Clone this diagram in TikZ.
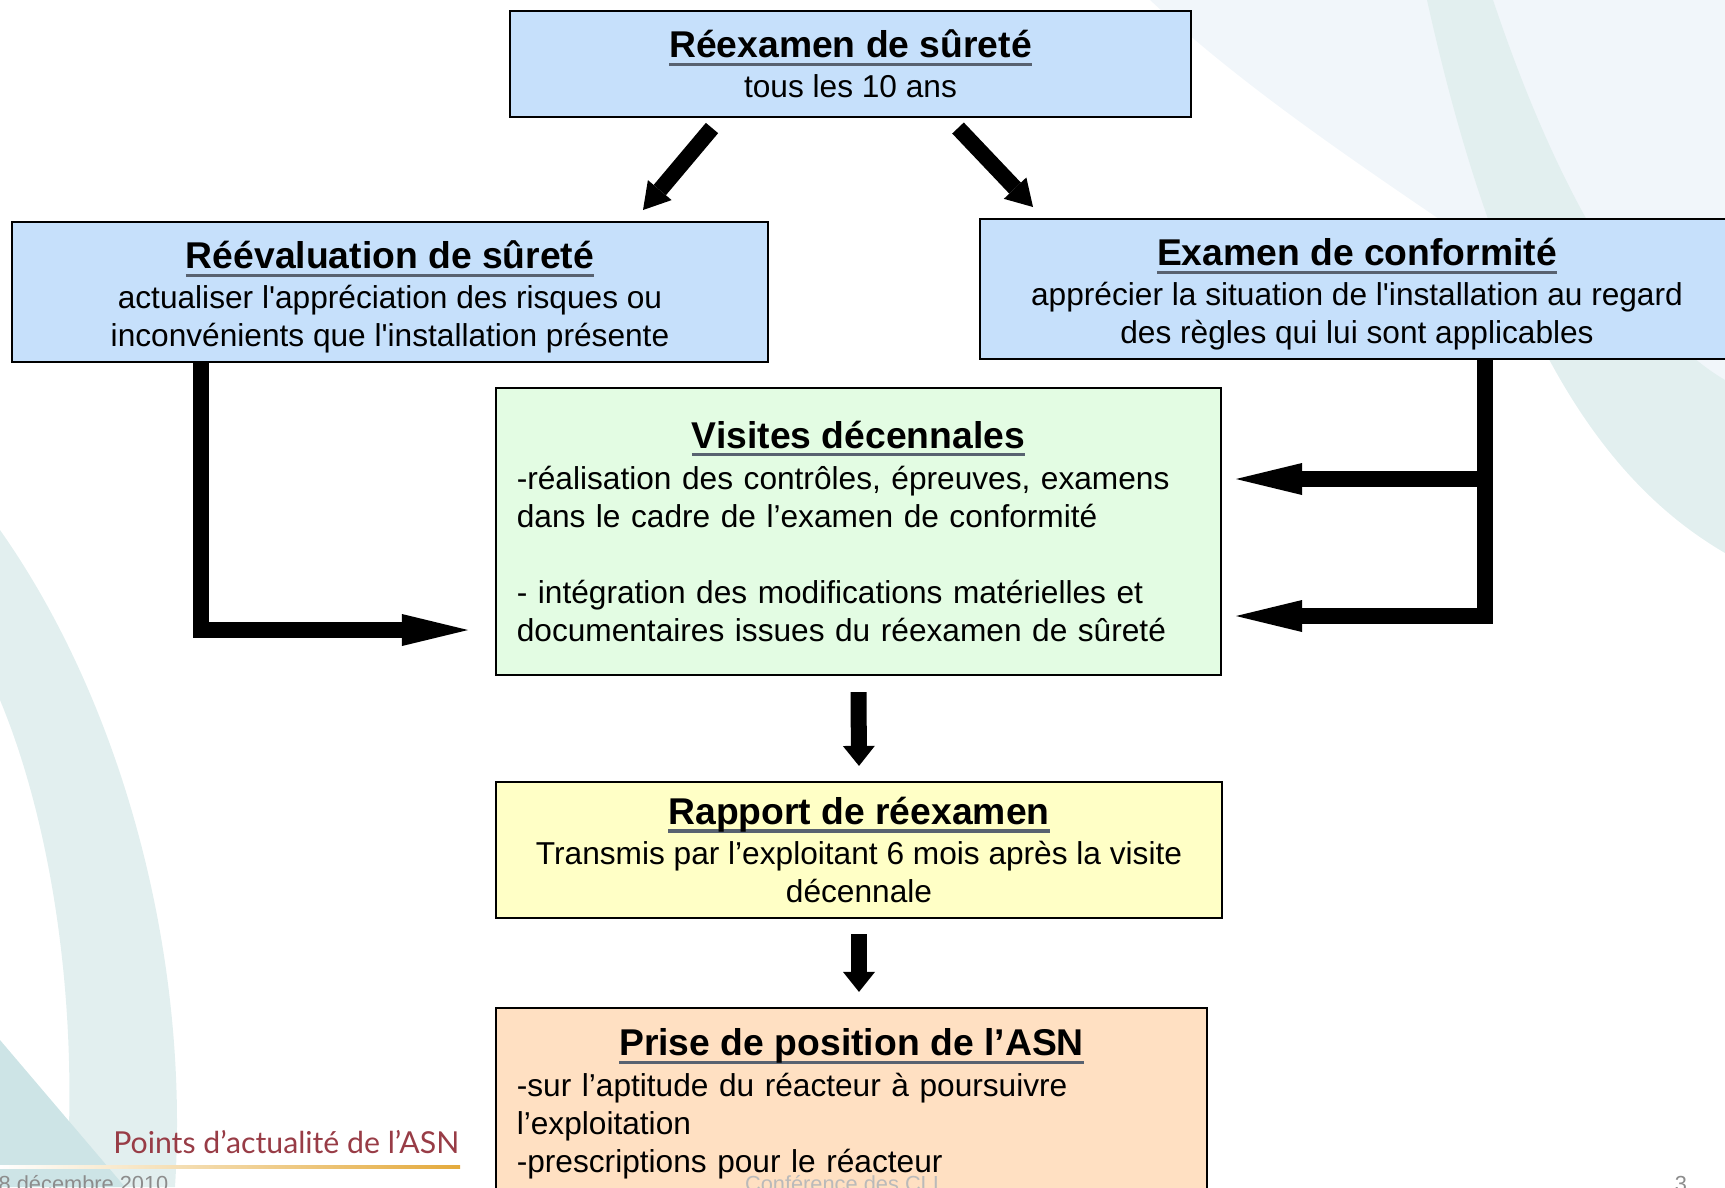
\documentclass[tikz,border=0pt]{standalone}
\usepackage{fontspec}
\setmainfont{Liberation Sans}
\newfontfamily\logofont{Lato}
\usetikzlibrary{arrows.meta}
\usetikzlibrary{calc}
\usetikzlibrary{positioning}

\definecolor{blueBox}{RGB}{198,224,251}
\definecolor{greenBox}{RGB}{227,252,227}
\definecolor{yellowBox}{RGB}{255,255,198}
\definecolor{orangeBox}{RGB}{255,224,194}
\definecolor{ulGray}{RGB}{88,98,112}
\definecolor{logoRed}{RGB}{152,60,70}
\definecolor{logoGold}{RGB}{228,170,60}
\definecolor{footGray}{RGB}{140,140,140}
\definecolor{bgTeal}{RGB}{226,239,239}
\definecolor{bgTealDark}{RGB}{205,228,230}
\definecolor{bgBlue}{RGB}{241,246,250}

\newcommand{\bodyfont}{\fontsize{9pt}{10.8pt}\selectfont}
\newcommand{\boxtitle}[1]{{\fontsize{10.6pt}{10.8pt}\selectfont\bfseries
    \setbox0\hbox{#1}\rlap{\color{ulGray}\rule[-2.3pt]{\wd0}{0.9pt}}\box0}}
\newcommand{\sq}{\textquotesingle}
\newcommand{\lowstrut}{\rule{0pt}{10.8pt}}

\begin{document}
\begin{tikzpicture}[x=0.01cm, y=-0.01cm]

    % Picture size and clipping
    \useasboundingbox (0,0) rectangle (1725,1187);
    \clip (0,0) rectangle (1725,1187);

    \tikzset{
        box/.style={draw=black, line width=0.6pt, inner sep=0pt,
            align=center, font=\bodyfont},
        fatline/.style={line width=0.16cm},
        bigarrow/.style={fatline,
            -{Triangle[length=0.66cm, width=0.32cm, line width=0pt]}},
        downarrow/.style={fatline,
            -{Triangle[length=0.20cm, width=0.32cm, line width=0pt]}},
        diagarrow/.style={fatline,
            -{Triangle[length=0.26cm, width=0.31cm, line width=0pt]}},
        foot/.style={inner sep=0pt, text=footGray,
            font=\fontsize{6.2pt}{7pt}\selectfont}
    }

    % Background shapes
    \begin{scope}
        \fill[bgBlue] (1150,0) -- (1725,0) -- (1725,420)
            .. controls (1500,250) and (1300,140) .. (1150,0);
        \fill[bgTeal] (1427,0) -- (1493,0)
            .. controls (1560,200) and (1640,330) .. (1725,380)
            -- (1725,553)
            .. controls (1600,480) and (1500,330) .. (1427,0);
        \fill[bgTeal] (0,530) .. controls (120,700) and (190,950) .. (175,1187)
            -- (66,1187) .. controls (80,1000) and (50,820) .. (0,700) -- cycle;
        \fill[bgTealDark] (0,1040) -- (125,1187) -- (0,1187) -- cycle;
    \end{scope}

    % Boxes
    \node[box, fill=blueBox, minimum width=6.81cm, minimum height=1.06cm]
        (reexamen) at (850.5,64)
        {\boxtitle{Réexamen de sûreté}\\[0.6pt] tous les 10 ans};
    \node[box, fill=blueBox, minimum width=7.56cm, minimum height=1.40cm]
        (reeval) at (390,292)
        {\lowstrut\boxtitle{Réévaluation de sûreté}\\[0.6pt]
        actualiser l\sq appréciation des risques ou\\
        inconvénients que l\sq installation présente};
    \node[box, fill=blueBox, minimum width=7.54cm, minimum height=1.40cm]
        (examen) at (1357,289)
        {\lowstrut\boxtitle{Examen de conformité}\\[0.6pt]
        apprécier la situation de l\sq installation au regard\\
        des règles qui lui sont applicables};
    \node[box, fill=greenBox, align=left, text width=6.83cm, inner xsep=0.21cm,
        minimum height=2.87cm] (visites) at (858.5,531.5)
        {\makebox[\linewidth]{\boxtitle{Visites décennales}}\\[1.1pt]
        -réalisation des contrôles, épreuves, examens\\
        dans le cadre de l’examen de conformité\\[10.8pt]
        - intégration des modifications matérielles et\\
        documentaires issues du réexamen de sûreté};
    \node[box, fill=yellowBox, minimum width=7.26cm, minimum height=1.36cm]
        (rapport) at (859,850)
        {\boxtitle{Rapport de réexamen}\\[0.6pt]
        Transmis par l’exploitant 6 mois après la visite\\
        décennale};
    \node[box, fill=orangeBox, align=left, text width=6.69cm, inner xsep=0.21cm,
        minimum height=1.92cm] (prise) at (851.5,1104)
        {\makebox[\linewidth]{\boxtitle{Prise de position de l’ASN}}\\[0.9pt]
        -sur l’aptitude du réacteur à poursuivre\\
        l’exploitation\\
        -prescriptions pour le réacteur};

    % Connector end points
    \coordinate (d1s) at (712,128);
    \coordinate (d1e) at (643,210);
    \coordinate (d2s) at (958,128);
    \coordinate (d2e) at (1033,207);
    \coordinate (lbend) at (201,630);
    \coordinate (ltip) at (468,630);
    \coordinate (rbend) at (1485,616);
    \coordinate (rtipa) at (1236,479);
    \coordinate (rtipb) at (1236,616);
    \coordinate (pn) at (rapport.south |- prise.north);

    % Arrows
    \draw[diagarrow] (d1s) -- (d1e);
    \draw[diagarrow] (d2s) -- (d2e);
    \draw[bigarrow] (reeval.south -| lbend) -- (lbend) -- (ltip);
    \draw[bigarrow] (examen.south -| rbend) -- (rbend) -- (rtipb);
    \draw[bigarrow] (rbend |- rtipa) -- (rtipa);
    \draw[downarrow] ([yshift=-0.16cm]visites.south) -- ([yshift=0.15cm]rapport.north);
    \draw[downarrow] ([yshift=-0.15cm]rapport.south) -- ([yshift=0.15cm]pn);

    % Footer
    \node[anchor=base east, inner sep=0pt, text=logoRed,
        font=\logofont\fontsize{8.6pt}{9pt}\selectfont]
        (logo) at (460,1153) {Points d’actualité de l’ASN};
    \shade[left color=white, right color=logoGold] (0,1165) rectangle (460,1168);
    \node[foot, anchor=base west] (date) at (-2,1191) {8 décembre 2010};
    \node[foot, anchor=base, text=footGray!60] (conf) at (842,1191) {Conférence des CLI};
    \node[foot, anchor=base] (page) at (1681,1191) {3};

\end{tikzpicture}
\end{document}
